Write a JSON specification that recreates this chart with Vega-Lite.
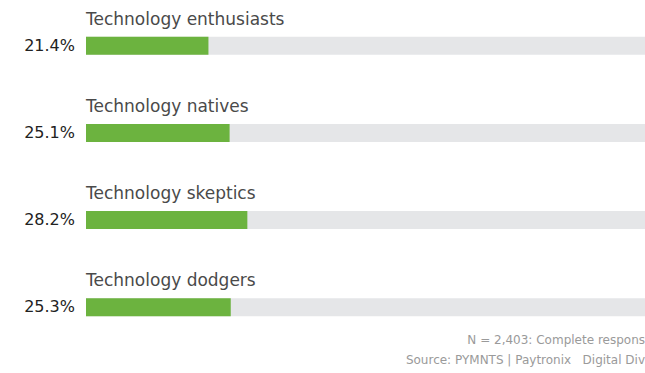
{
  "$schema": "https://vega.github.io/schema/vega-lite/v6.json",
  "autosize": {"type": "none"},
  "padding": {"left": 86, "top": 24, "right": 0, "bottom": 44},
  "width": 559,
  "height": 305,
  "background": "white",
  "config": {"view": {"stroke": null}, "font": "DejaVu Sans"},
  "title": {
    "text": ["N = 2,403: Complete respons", "Source: PYMNTS | Paytronix\u00a0\u00a0\u00a0Digital Div"],
    "orient": "bottom",
    "anchor": "end",
    "align": "right",
    "fontSize": 12,
    "fontWeight": "normal",
    "color": "#9a9a9a",
    "lineHeight": 20,
    "offset": 6,
    "font": "DejaVu Sans"
  },
  "data": {
    "values": [
      {"category": "Technology enthusiasts", "value": 21.4},
      {"category": "Technology natives", "value": 25.1},
      {"category": "Technology skeptics", "value": 28.2},
      {"category": "Technology dodgers", "value": 25.3}
    ]
  },
  "transform": [{"calculate": "format(datum.value, '.1f') + '%'", "as": "label"}],
  "encoding": {
    "y": {
      "field": "category",
      "type": "nominal",
      "sort": null,
      "axis": null,
      "scale": {"paddingInner": 0.5, "paddingOuter": 0}
    }
  },
  "layer": [
    {
      "mark": {"type": "bar", "height": 18, "color": "#E5E6E8", "clip": true},
      "encoding": {
        "x": {"datum": 0, "type": "quantitative", "axis": null, "scale": {"domain": [0, 97.7], "nice": false}},
        "x2": {"datum": 100}
      }
    },
    {
      "mark": {"type": "bar", "height": 18, "color": "#6CB33F", "clip": true},
      "encoding": {
        "x": {"field": "value", "type": "quantitative"}
      }
    },
    {
      "mark": {"type": "text", "align": "left", "baseline": "alphabetic", "dy": -21, "fontSize": 17, "fontWeight": "normal", "color": "#4a4a4a"},
      "encoding": {
        "x": {"datum": 0, "type": "quantitative"},
        "text": {"field": "category"}
      }
    },
    {
      "mark": {"type": "text", "align": "right", "baseline": "middle", "dx": -11, "fontSize": 16, "fontWeight": "normal", "color": "#222222"},
      "encoding": {
        "x": {"datum": 0, "type": "quantitative"},
        "text": {"field": "label"}
      }
    }
  ]
}
